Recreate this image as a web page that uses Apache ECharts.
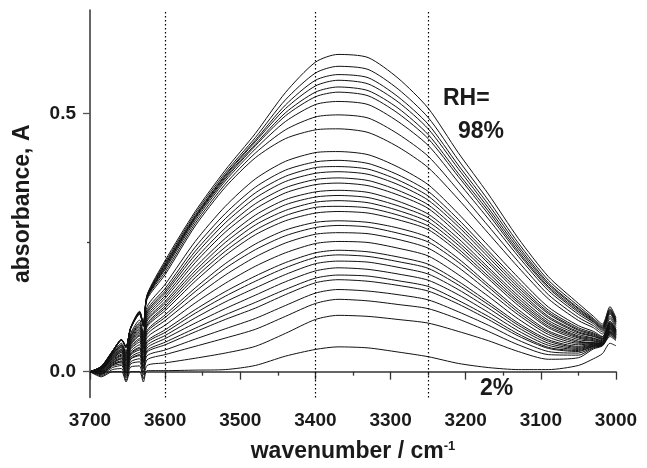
<!DOCTYPE html>
<html>
<head>
<meta charset="utf-8">
<script src="https://cdn.jsdelivr.net/npm/echarts@6/dist/echarts.min.js"></script>
<style>
html,body{margin:0;padding:0;background:#fff;}
#chart{width:647px;height:468px;}
</style>
</head>
<body>
<div id="chart"></div>
<script>
// wavenumber sample positions (cm-1)
const wavenumbers = [3700, 3685, 3670, 3658, 3652, 3646, 3634, 3629, 3624, 3600, 3560, 3520, 3480, 3440, 3400, 3370, 3330, 3290, 3250, 3210, 3170, 3130, 3090, 3050, 3030, 3018, 3008, 3000];

// absorbance spectra, from RH = 98% (top) down to RH = 2% (bottom)
const c01 = [0, .009, .038, .062, .048, .085, .117, .093, .149, .215, .310, .390, .461, .540, .599, .614, .608, .568, .510, .424, .344, .258, .184, .132, .107, .092, .126, .104];
const c02 = [0, .009, .038, .062, .048, .085, .116, .092, .148, .211, .306, .385, .453, .526, .578, .591, .585, .547, .492, .410, .332, .249, .177, .127, .103, .089, .122, .101];
const c03 = [0, .009, .038, .061, .047, .084, .115, .091, .147, .208, .302, .381, .448, .516, .564, .575, .569, .532, .479, .400, .324, .243, .172, .123, .101, .087, .120, .099];
const c04 = [0, .009, .038, .061, .047, .084, .114, .090, .145, .206, .300, .379, .445, .509, .553, .564, .557, .522, .470, .393, .317, .238, .169, .121, .099, .085, .118, .097];
const c05 = [0, .009, .038, .061, .047, .084, .114, .090, .144, .203, .298, .376, .440, .501, .541, .551, .544, .510, .459, .384, .311, .233, .165, .118, .097, .084, .116, .096];
const c06 = [0, .010, .040, .062, .048, .084, .114, .090, .144, .201, .296, .373, .437, .495, .532, .541, .534, .500, .451, .378, .305, .229, .162, .115, .096, .082, .114, .094];
const c07 = [0, .010, .040, .062, .048, .084, .113, .089, .144, .198, .292, .369, .431, .484, .517, .523, .517, .484, .438, .367, .296, .223, .157, .111, .093, .080, .112, .092];
const c08 = [0, .010, .040, .062, .047, .083, .112, .088, .143, .193, .287, .363, .423, .468, .493, .497, .491, .460, .417, .351, .282, .213, .149, .105, .089, .077, .107, .089];
const c09 = [0, .010, .040, .062, .047, .083, .111, .087, .140, .188, .282, .357, .414, .451, .468, .470, .463, .435, .395, .334, .268, .202, .141, .099, .085, .073, .103, .085];
const c10 = [0, .008, .036, .055, .040, .074, .100, .075, .126, .169, .252, .320, .373, .407, .424, .426, .420, .396, .362, .306, .244, .182, .125, .089, .078, .068, .098, .082];
const c11 = [0, .007, .034, .052, .037, .071, .095, .071, .120, .161, .241, .306, .357, .390, .406, .409, .403, .381, .349, .295, .234, .174, .119, .085, .075, .067, .097, .081];
const c12 = [0, .007, .034, .051, .035, .068, .092, .067, .116, .156, .233, .296, .346, .378, .395, .397, .392, .371, .340, .287, .228, .168, .115, .082, .073, .065, .095, .080];
const c13 = [0, .007, .034, .050, .034, .067, .089, .065, .113, .152, .226, .288, .336, .368, .384, .387, .382, .362, .332, .281, .222, .163, .112, .080, .071, .064, .094, .079];
const c14 = [0, .006, .032, .048, .031, .064, .086, .061, .109, .147, .218, .278, .325, .356, .372, .375, .370, .351, .323, .273, .215, .158, .107, .077, .069, .063, .093, .078];
const c15 = [0, .006, .032, .047, .030, .062, .083, .059, .105, .142, .211, .270, .315, .346, .362, .365, .360, .342, .316, .266, .210, .153, .104, .075, .068, .062, .092, .078];
const c16 = [0, .005, .029, .044, .027, .059, .080, .055, .101, .136, .202, .258, .303, .333, .348, .351, .347, .330, .305, .258, .202, .147, .099, .072, .065, .060, .090, .077];
const c17 = [0, .005, .029, .043, .026, .058, .077, .053, .098, .132, .195, .250, .293, .323, .338, .341, .337, .321, .298, .251, .197, .142, .095, .069, .064, .059, .089, .076];
const c18 = [0, .004, .027, .041, .023, .055, .074, .049, .093, .127, .189, .241, .284, .312, .328, .331, .327, .312, .290, .245, .191, .137, .092, .067, .062, .058, .088, .075];
const c19 = [0, .004, .027, .040, .022, .053, .071, .046, .090, .123, .182, .233, .274, .302, .318, .320, .317, .303, .282, .238, .185, .133, .088, .065, .060, .057, .087, .074];
const c20 = [0, .003, .025, .038, .020, .051, .069, .044, .087, .118, .175, .225, .265, .292, .307, .310, .307, .294, .275, .232, .180, .128, .085, .062, .059, .056, .086, .074];
const c21 = [0, .003, .025, .037, .017, .048, .064, .039, .080, .110, .162, .209, .247, .274, .289, .292, .289, .278, .260, .219, .169, .120, .079, .059, .056, .055, .084, .072];
const c22 = [0, .002, .023, .034, .015, .045, .061, .036, .077, .105, .155, .200, .236, .263, .279, .283, .280, .268, .251, .212, .164, .115, .076, .057, .056, .055, .084, .072];
const c23 = [0, .001, .021, .032, .012, .043, .057, .032, .072, .099, .145, .187, .222, .249, .266, .269, .267, .256, .239, .202, .156, .110, .072, .055, .055, .054, .082, .071];
const c24 = [0, .001, .021, .030, .010, .039, .052, .027, .066, .090, .133, .171, .204, .230, .248, .252, .250, .239, .224, .188, .146, .102, .067, .052, .054, .054, .081, .070];
const c25 = [0, .000, .019, .027, .007, .036, .047, .022, .059, .081, .120, .155, .185, .211, .230, .235, .232, .222, .208, .175, .135, .094, .062, .049, .053, .053, .079, .069];
const c26 = [0, -.001, .017, .025, .005, .034, .045, .019, .056, .076, .113, .146, .175, .201, .221, .226, .223, .213, .200, .168, .130, .090, .059, .047, .052, .053, .078, .068];
const c27 = [0, -.001, .017, .025, .003, .032, .042, .017, .051, .070, .104, .135, .162, .188, .209, .214, .212, .202, .189, .159, .123, .085, .055, .045, .051, .053, .077, .067];
const c28 = [0, -.003, .015, .021, .000, .028, .037, .012, .046, .064, .094, .122, .148, .174, .195, .201, .198, .189, .177, .149, .115, .079, .051, .043, .050, .052, .076, .066];
const c29 = [0, -.004, .013, .019, -.003, .025, .033, .008, .041, .057, .084, .110, .134, .159, .181, .187, .185, .176, .165, .138, .107, .073, .047, .041, .049, .052, .075, .065];
const c30 = [0, -.004, .013, .019, -.004, .024, .031, .006, .038, .052, .077, .101, .123, .149, .172, .178, .175, .167, .156, .131, .101, .069, .045, .039, .049, .052, .074, .065];
const c31 = [0, -.005, .011, .015, -.008, .019, .025, .000, .031, .042, .063, .083, .103, .128, .152, .159, .156, .149, .139, .116, .090, .061, .039, .036, .047, .051, .072, .063];
const c32 = [0, -.006, .008, .012, -.012, .015, .019, -.006, .023, .033, .049, .065, .082, .107, .132, .140, .137, .130, .122, .102, .078, .052, .033, .032, .046, .051, .071, .062];
const c33 = [0, -.008, .004, .006, -.017, .009, .011, -.014, .012, .017, .026, .036, .049, .074, .101, .109, .107, .101, .094, .078, .060, .039, .024, .027, .044, .050, .068, .060];
const c34 = [0, -.010, .000, .000, -.020, .000, .000, -.020, .002, .002, .003, .004, .012, .030, .043, .048, .046, .038, .029, .016, .008, .004, .004, .012, .025, .035, .055, .050];

const spectra = [c01, c02, c03, c04, c05, c06, c07, c08, c09, c10, c11, c12, c13, c14, c15, c16, c17, c18, c19, c20,
                 c21, c22, c23, c24, c25, c26, c27, c28, c29, c30, c31, c32, c33, c34];

// axis ticks and guide lines
const yMajorTicks = [0, 0.5];
const yMinorTicks = [0.25];
const dottedLines = [3600, 3400, 3250];
const annotations = ['RH=', '98%', '2%'];

const FONT = '"Liberation Sans", Arial, Helvetica, sans-serif';
const chart = echarts.init(document.getElementById('chart'), null, {renderer: 'canvas'});

const series = spectra.map((c, k) => ({
  type: 'line',
  data: wavenumbers.map((w, i) => [w, c[i]]),
  showSymbol: false,
  smooth: 0.25,
  silent: true,
  lineStyle: {color: '#111', width: 1},
  z: 2,
  markLine: k === 0 ? {
    silent: true,
    symbol: ['none', 'none'],
    label: {show: false},
    lineStyle: {type: [1.5, 2.5], color: '#000', width: 1.2},
    data: dottedLines.map(v => ({xAxis: v}))
  } : undefined
}));

const option = {
  animation: false,
  backgroundColor: '#fff',
  grid: {left: 90, right: 31, top: 10, bottom: 67},
  xAxis: {
    type: 'value',
    min: 3000, max: 3700, interval: 100,
    inverse: true,
    name: '{a|wavenumber / cm}{b|-1}',
    nameLocation: 'middle',
    nameGap: 42,
    nameTextStyle: {
      rich: {
        a: {fontFamily: FONT, fontWeight: 'bold', fontSize: 23, color: '#1a1a1a'},
        b: {fontFamily: FONT, fontWeight: 'bold', fontSize: 13, color: '#1a1a1a', padding: [0, 0, 11, 0]}
      }
    },
    axisLine: {show: true, lineStyle: {color: '#333', width: 1.5}},
    axisTick: {show: true, inside: false, length: 8, lineStyle: {color: '#333', width: 1.3}},
    minorTick: {show: true, splitNumber: 2, length: 4, lineStyle: {color: '#333', width: 1.3}},
    splitLine: {show: false},
    minorSplitLine: {show: false},
    axisLabel: {fontFamily: FONT, fontWeight: 'bold', fontSize: 19, color: '#1a1a1a', margin: 14,
                formatter: v => String(v)}
  },
  yAxis: [{
    type: 'value',
    min: -0.05, max: 0.70,
    name: 'absorbance, A',
    nameLocation: 'middle',
    nameGap: 56,
    nameTextStyle: {fontFamily: FONT, fontWeight: 'bold', fontSize: 23, color: '#1a1a1a'},
    axisLine: {show: true, lineStyle: {color: '#333', width: 1.5}},
    axisTick: {show: true, inside: false, length: 7, customValues: yMajorTicks, lineStyle: {color: '#555', width: 1.3}},
    splitLine: {show: false},
    axisLabel: {fontFamily: FONT, fontWeight: 'bold', fontSize: 19, color: '#1a1a1a', margin: 14,
                customValues: yMajorTicks, formatter: v => v.toFixed(1)}
  }, {
    type: 'value',
    min: -0.05, max: 0.70,
    position: 'left',
    axisLine: {show: false},
    axisTick: {show: true, inside: false, length: 3, customValues: yMinorTicks, lineStyle: {color: '#333', width: 1.3}},
    axisLabel: {show: false},
    splitLine: {show: false}
  }],
  graphic: [
    {type: 'text', left: 443, top: 87, style: {text: annotations[0], font: 'bold 23px ' + FONT, fill: '#1a1a1a'}},
    {type: 'text', left: 458, top: 120, style: {text: annotations[1], font: 'bold 23px ' + FONT, fill: '#1a1a1a'}},
    {type: 'text', left: 480, top: 377, style: {text: annotations[2], font: 'bold 23px ' + FONT, fill: '#1a1a1a'}}
  ],
  series: series
};
chart.setOption(option);
</script>
</body>
</html>
